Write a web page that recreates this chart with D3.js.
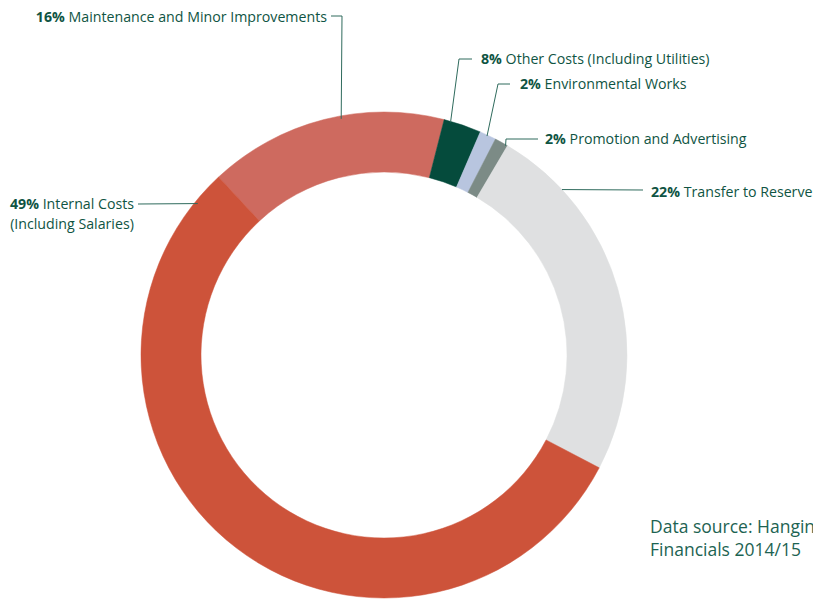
<!DOCTYPE html>
<html>
<head>
<meta charset="utf-8">
<script src="https://cdn.jsdelivr.net/npm/d3@7"></script>
<style>
  body { margin: 0; background: #fff; overflow: hidden; }
  svg { display: block; font-family: "Open Sans", Lato, sans-serif; }
</style>
</head>
<body>
<div id="chart"></div>
<script>
// slice order runs clockwise, starting at the maintenance slice
var categories = ["Maintenance and Minor Improvements", "Other Costs (Including Utilities)",
    "Environmental Works", "Promotion and Advertising", "Transfer to Reserves",
    "Internal Costs|(Including Salaries)"];
var labelPct = [16, 8, 2, 2, 22, 49];          // percentages printed in the labels
var shares = [15.9, 2.5, 1.1, 0.9, 24.2, 55.4]; // slice sizes as drawn
var colors = ["#ce6a5f", "#054b3c", "#b8c5df", "#7c8b86", "#dfe0e1", "#cd533a"];

function init() {
    var w = 813, h = 599;
    var cx = 384, cy = 355;
    var outerR = 243, innerR = 183;
    var textColor = "#0f5443";

    var svg = d3.select("#chart")
        .append("svg")
        .attr("width", w)
        .attr("height", h);

    var rad = Math.PI / 180;
    var pie = d3.pie()
        .sort(null)
        .value(function(d) { return d; })
        .startAngle(-42.9 * rad)
        .endAngle(317.1 * rad);

    var arcs = pie(shares);

    var arc = d3.arc()
        .innerRadius(innerR)
        .outerRadius(outerR);

    var g = svg.append("g")
        .attr("transform", "translate(" + cx + "," + cy + ")");

    g.selectAll("path.slice")
        .data(arcs)
        .enter()
        .append("path")
        .attr("class", "slice")
        .attr("d", arc)
        .attr("fill", function(d, i) { return colors[i]; })
        .attr("stroke", function(d, i) { return colors[i]; })
        .attr("stroke-width", 0.5);

    // label layout: where on the slice the leader starts, elbow, text spot
    var layout = [
        { f: 0.57, r: 240, elbow: [342, 16], end: [331, 16], tx: 327, ty: 22, anchor: "end" },
        { f: 0.18, r: 242, elbow: [459, 59], end: [472, 59], tx: 481, ty: 64, anchor: "start" },
        { f: 0.47, r: 242, elbow: [498, 84], end: [510, 84], tx: 520, ty: 89, anchor: "start" },
        { f: 0.88, r: 242, elbow: [506, 139], end: [538, 139], tx: 545, ty: 144, anchor: "start" },
        { f: 0.19, r: 243, elbow: null, end: [643, 190], tx: 651, ty: 197, anchor: "start" },
        { f: 0.96, r: 240, elbow: null, end: [138, 204], tx: 72, ty: 209, anchor: "middle" }
    ];

    arcs.forEach(function(d, i) {
        var L = layout[i];
        var a = d.startAngle + L.f * (d.endAngle - d.startAngle);
        var p0 = [cx + L.r * Math.sin(a), cy - L.r * Math.cos(a)];
        var pts = [p0];
        if (L.elbow) pts.push(L.elbow);
        pts.push(L.end);

        svg.append("path")
            .attr("d", d3.line()(pts))
            .attr("fill", "none")
            .attr("stroke", "#2f6b5d")
            .attr("stroke-width", 1);

        var lines = categories[i].split("|");
        var t = svg.append("text")
            .attr("x", L.tx)
            .attr("y", L.ty)
            .attr("text-anchor", L.anchor)
            .attr("fill", textColor)
            .style("font-size", "14.2px");
        t.append("tspan")
            .style("font-weight", 700)
            .text(labelPct[i] + "% ");
        t.append("tspan")
            .text(lines[0]);
        if (lines.length > 1) {
            t.append("tspan")
                .attr("x", L.tx)
                .attr("dy", 20)
                .text(lines[1]);
        }
    });

    // source note
    var src = svg.append("text")
        .attr("x", 650)
        .attr("y", 533)
        .attr("fill", "#1d6352")
        .style("font-size", "17.5px");
    src.append("tspan").text("Data source: Hanging Rock");
    src.append("tspan").attr("x", 650).attr("dy", 23).text("Financials 2014/15");
}

window.onload = init;
</script>
</body>
</html>
